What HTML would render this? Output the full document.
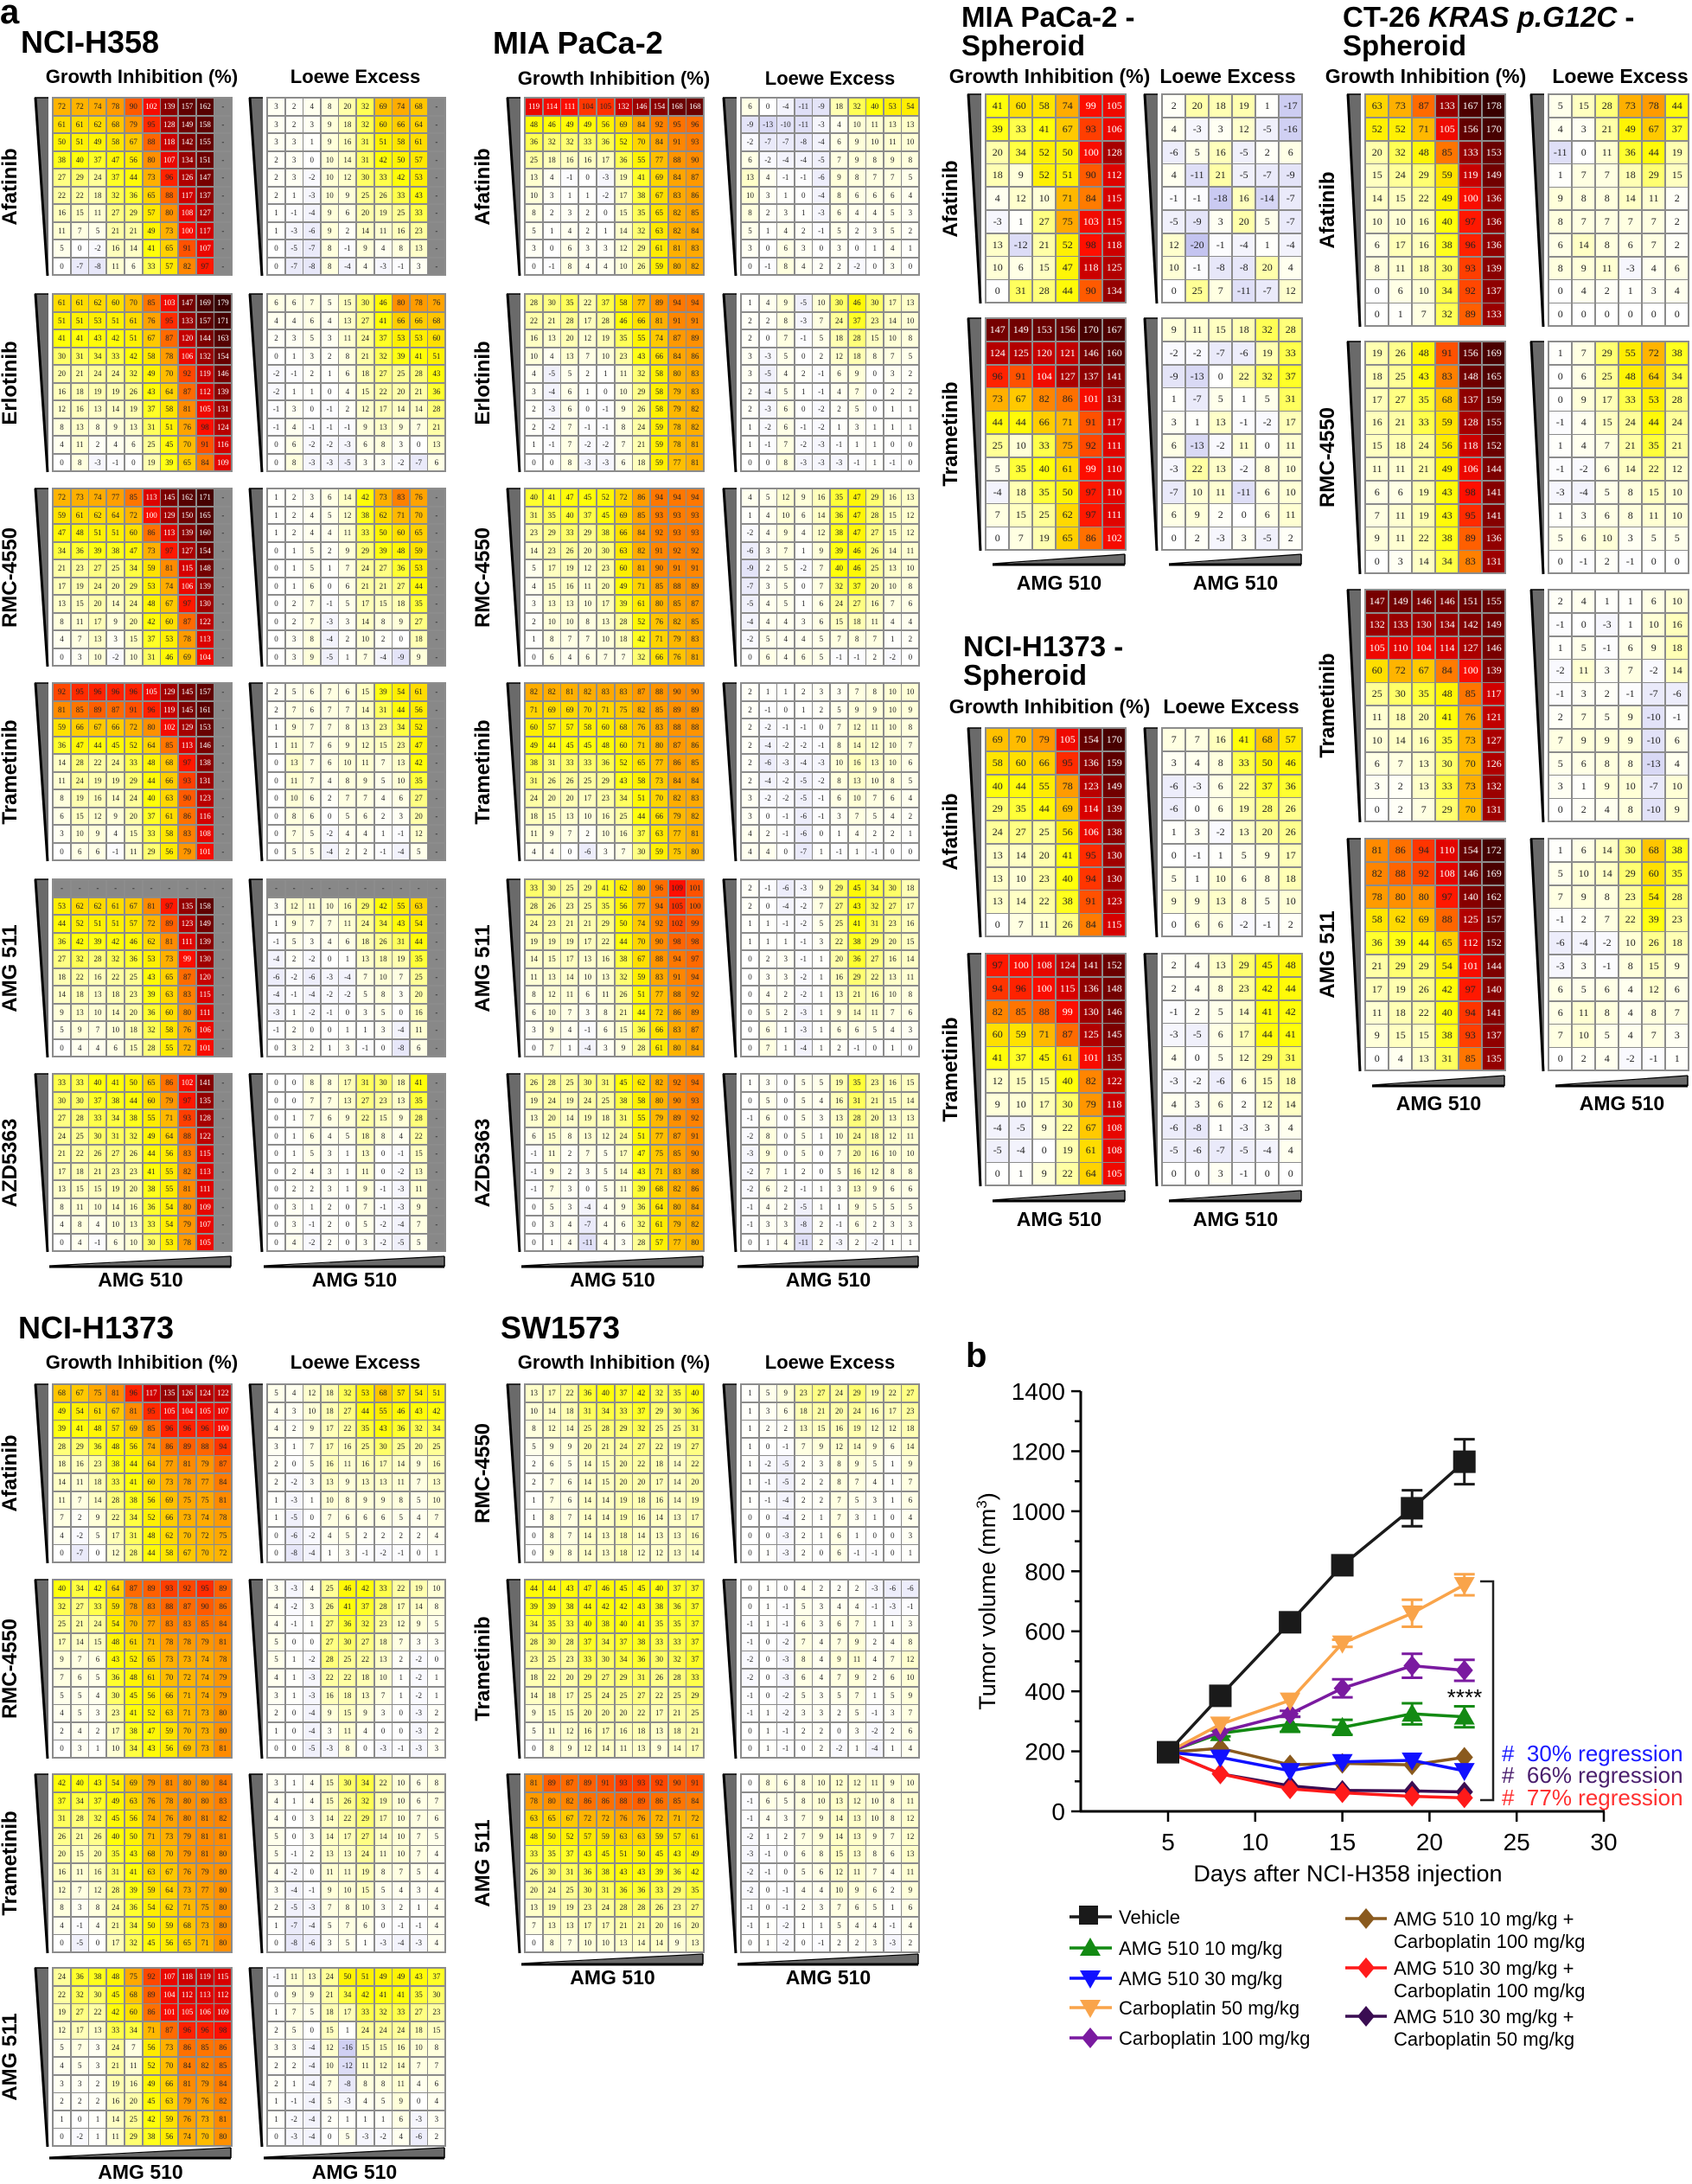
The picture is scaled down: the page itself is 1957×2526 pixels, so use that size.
<!DOCTYPE html>
<html><head><meta charset="utf-8">
<style>
html,body{margin:0;padding:0;background:#fff;}
body{width:1957px;height:2521px;position:relative;overflow:hidden;font-family:"Liberation Sans",Arial,sans-serif;}
.t{position:absolute;white-space:nowrap;font-weight:bold;color:#000;}
.c{position:absolute;box-sizing:border-box;text-align:center;font-family:"Liberation Serif","DejaVu Serif",serif;color:#222;}
.g{position:absolute;background:#8c8c8c;}
.rl{position:absolute;font-weight:bold;white-space:nowrap;transform:translate(-50%,-50%) rotate(-90deg);font-size:24px;}
.hd{position:absolute;font-weight:bold;white-space:nowrap;transform:translateX(-50%);font-size:22px;}
</style></head><body>
<div id="root"></div>
<script>
const R=document.getElementById('root');
function el(tag,cls,st,txt){const e=document.createElement(tag);if(cls)e.className=cls;if(st)e.style.cssText=st;if(txt!==undefined)e.textContent=txt;R.appendChild(e);return e;}
const stops=[[-20,[196,196,240]],[0,[255,255,255]],[10,[255,255,214]],[25,[255,255,150]],[40,[255,255,10]],[56,[255,235,0]],[66,[255,205,0]],[78,[255,155,0]],[90,[255,90,0]],[98,[255,15,0]],[115,[215,0,0]],[130,[160,0,0]],[150,[110,0,0]],[178,[55,0,0]]];
function col(v){if(v<=stops[0][0])return 'rgb('+stops[0][1]+')';for(let i=1;i<stops.length;i++){if(v<=stops[i][0]){const a=stops[i-1],b=stops[i];const t=(v-a[0])/(b[0]-a[0]);return 'rgb('+a[1].map((x,k)=>Math.round(x+(b[1][k]-x)*t)).join(',')+')';}}return 'rgb('+stops[stops.length-1][1]+')';}
function rows(anchors,nrows){
  const out=[];
  for(let r=0;r<nrows;r++){
    let a=null,b=null;
    for(const an of anchors){if(an[0]<=r)a=an;if(an[0]>=r&&!b)b=an;}
    if(!a){out.push(null);continue;}
    if(!b)b=a;
    if(a[0]===b[0]){out.push(a[1].slice());continue;}
    const t=(r-a[0])/(b[0]-a[0]);
    out.push(a[1].map((x,k)=>Math.round(x+(b[1][k]-x)*t)));
  }
  return out;
}
function grid(x,y,w,h,nc,nr,data,o){
  o=o||{};
  const rs=rows(data,nr);
  const sc=o.sc||1;
  el('div','g','left:'+(x-1)+'px;top:'+(y-1)+'px;width:'+(w+2)+'px;height:'+(h+2)+'px;');
  const cw=w/nc,ch=h/nr,fs=o.fs||9;
  for(let r=0;r<nr;r++)for(let c=0;c<nc;c++){
    const row=rs[r];let v=(row&&c<row.length)?row[c]:null;
    const gray=(v===null)||(o.grayRow0&&r===0);
    const bg=gray?'#888':col(v>0?v*sc:v);
    const fg=(!gray&&v*sc>=99)?'#fff':'#222';
    el('div','c','left:'+(x+c*cw+1).toFixed(1)+'px;top:'+(y+r*ch+1).toFixed(1)+'px;width:'+(cw-1.6).toFixed(1)+'px;height:'+(ch-1.6).toFixed(1)+'px;line-height:'+(ch-1.6).toFixed(1)+'px;font-size:'+fs+'px;background:'+bg+';color:'+fg,gray?'-':String(v));
  }
  const s=document.createElementNS('http://www.w3.org/2000/svg','svg');
  s.setAttribute('width',20);s.setAttribute('height',h+4);
  s.style.cssText='position:absolute;left:'+(x-22)+'px;top:'+(y-1)+'px;';
  s.innerHTML='<polygon points="1,1 17,1 17,'+(h+2)+'" fill="#6a6a6a"/><line x1="2" y1="1" x2="16" y2="'+(h+2)+'" stroke="#000" stroke-width="3"/><line x1="1" y1="1" x2="17" y2="1" stroke="#000" stroke-width="1.5"/>';
  R.appendChild(s);
}
function hwedge(x,y,w,lbl,ly){
  const s=document.createElementNS('http://www.w3.org/2000/svg','svg');
  s.setAttribute('width',w+4);s.setAttribute('height',18);
  s.style.cssText='position:absolute;left:'+(x-2)+'px;top:'+y+'px;';
  s.innerHTML='<polygon points="2,13 '+(w+1)+',1 '+(w+1)+',13" fill="#6a6a6a"/><line x1="2" y1="13" x2="'+(w+1)+'" y2="13" stroke="#000" stroke-width="3"/><line x1="2" y1="12" x2="'+(w+1)+'" y2="1" stroke="#000" stroke-width="1.2"/><line x1="'+(w+1)+'" y1="1" x2="'+(w+1)+'" y2="13" stroke="#000" stroke-width="1.5"/>';
  R.appendChild(s);
  el('div','hd','left:'+(x+w/2)+'px;top:'+(ly-13)+'px;font-size:23px;','AMG 510');
}
function rl(cx,cy,t,fs){el('div','rl','left:'+cx+'px;top:'+cy+'px;'+(fs?'font-size:'+fs+'px;':''),t);}
function hd(cx,cy,t,fs){el('div','hd','left:'+cx+'px;top:'+(cy-13)+'px;font-size:'+(fs||22)+'px;',t);}
function title(x,y,html,fs){const e=el('div','t','left:'+x+'px;top:'+y+'px;font-size:'+(fs||35)+'px;line-height:1;');e.innerHTML=html;}

title(0,-6,'a',40);
title(24,31,'NCI-H358',36);
title(570,32,'MIA PaCa-2',36);
hd(164,89,'Growth Inhibition (%)');hd(411,89,'Loewe Excess');
hd(710,91,'Growth Inhibition (%)');hd(960,91,'Loewe Excess');
const tops=[113,340,565,790,1017,1242],GH=205;
const lab1=['Afatinib','Erlotinib','RMC-4550','Trametinib','AMG 511','AZD5363'];
const h358=[
 [[[0,[72,72,74,78,90,102,139,157,162]],[4,[27,29,24,37,44,73,96,126,147]],[9,[0,-7,-8,11,6,33,57,82,97]]],
  [[0,[3,2,4,8,20,32,69,74,68]],[4,[2,3,-2,10,12,30,33,42,53]],[9,[0,-7,-8,8,-4,4,-3,-1,3]]]],
 [[[0,[61,61,62,60,70,85,103,147,169,179]],[4,[20,21,24,24,32,49,70,92,119,146]],[9,[0,8,-3,-1,0,19,39,65,84,109]]],
  [[0,[6,6,7,5,15,30,46,80,78,76]],[4,[-2,-1,2,1,6,18,27,25,28,43]],[9,[0,8,-3,-3,-5,3,3,-2,-7,6]]]],
 [[[0,[72,73,74,77,85,113,145,162,171]],[4,[21,23,27,25,34,59,81,115,148]],[9,[0,3,10,-2,10,31,46,69,104]]],
  [[0,[1,2,3,6,14,42,73,83,76]],[4,[0,1,5,1,7,24,27,36,53]],[9,[0,3,9,-5,1,7,-4,-9,9]]]],
 [[[0,[92,95,96,96,96,105,129,145,157]],[1,[81,85,89,87,91,96,119,145,161]],[4,[14,28,22,24,33,48,68,97,138]],[9,[0,6,6,-1,11,29,56,79,101]]],
  [[0,[2,5,6,7,6,15,39,54,61]],[4,[0,13,7,6,10,11,7,13,42]],[9,[0,5,5,-4,2,2,-1,-4,5]]]],
 [[[1,[53,62,62,61,67,81,97,135,158]],[5,[18,22,16,22,25,43,65,87,120]],[9,[0,4,4,6,15,28,55,72,101]]],
  [[1,[3,12,11,10,16,29,42,55,63]],[5,[-6,-2,-6,-3,-4,7,10,7,25]],[9,[0,3,2,1,3,-1,0,-8,6]]]],
 [[[0,[33,33,40,41,50,65,86,102,141]],[4,[21,22,26,27,26,44,56,83,115]],[9,[0,4,-1,6,10,30,53,78,105]]],
  [[0,[0,0,8,8,17,31,30,18,41]],[4,[0,1,5,3,1,13,0,-1,15]],[9,[0,4,-2,2,0,3,-2,-5,5]]]]
];
h358.forEach((d,i)=>{
  const o={grayRow0:i===4};
  grid(61,tops[i],207,GH,10,10,d[0],o);grid(309,tops[i],206,GH,10,10,d[1],o);
  rl(12,tops[i]+GH/2,lab1[i]);
});
hwedge(57,1452,211,'',1480);hwedge(305,1452,210,'',1480);

const mia=[
 [[[0,[119,114,111,104,105,132,146,154,168,168]],[1,[48,46,49,49,56,69,84,92,95,96]],[4,[13,4,-1,0,-3,19,41,69,84,87]],[9,[0,-1,8,4,4,10,26,59,80,82]]],
  [[0,[6,0,-4,-11,-9,18,32,40,53,54]],[1,[-9,-13,-10,-11,-3,4,10,11,13,13]],[4,[13,4,-1,-1,-6,9,8,7,7,5]],[9,[0,-1,8,4,2,2,-2,0,3,0]]]],
 [[[0,[28,30,35,22,37,58,77,89,94,94]],[4,[4,-5,5,2,1,11,32,58,80,83]],[9,[0,0,8,-3,-3,6,18,59,77,81]]],
  [[0,[1,4,9,-5,10,30,46,30,17,13]],[4,[3,-5,4,2,-1,6,9,0,3,2]],[9,[0,0,8,-3,-3,-3,-1,1,-1,0]]]],
 [[[0,[40,41,47,45,52,72,86,94,94,94]],[4,[5,17,19,12,23,60,81,90,91,91]],[9,[0,6,4,6,7,7,32,66,76,81]]],
  [[0,[4,5,12,9,16,35,47,29,16,13]],[4,[-9,2,5,-2,7,40,46,25,13,10]],[9,[0,6,4,6,5,-1,-1,2,-2,0]]]],
 [[[0,[82,82,81,82,83,83,87,88,90,90]],[4,[38,31,33,33,36,52,65,77,86,85]],[9,[4,4,0,-6,3,7,30,59,75,80]]],
  [[0,[2,1,1,2,3,3,7,8,10,10]],[4,[2,-6,-3,-4,-3,10,16,13,10,6]],[9,[4,4,0,-7,1,-1,1,-1,0,0]]]],
 [[[0,[33,30,25,29,41,62,80,96,109,101]],[4,[14,15,17,13,16,38,67,88,94,97]],[9,[0,7,1,-4,3,9,28,61,80,84]]],
  [[0,[2,-1,-6,-3,9,29,45,34,30,18]],[4,[0,2,3,-1,1,20,36,27,16,14]],[9,[0,7,1,-4,1,2,-1,0,1,0]]]],
 [[[0,[26,28,25,30,31,45,62,82,92,94]],[4,[-1,11,2,7,5,17,47,75,85,90]],[9,[0,1,4,-11,4,3,28,57,77,80]]],
  [[0,[1,3,0,5,5,19,35,23,16,15]],[4,[-3,9,0,5,0,7,20,16,10,10]],[9,[0,1,4,-11,2,-3,2,-2,1,1]]]]
];
mia.forEach((d,i)=>{grid(607,tops[i],207,GH,10,10,d[0],{sc:0.9});grid(857,tops[i],206,GH,10,10,d[1]);rl(559,tops[i]+GH/2,lab1[i]);});
hwedge(603,1452,211,'',1480);hwedge(853,1452,210,'',1480);

title(21,1518,'NCI-H1373',36);
title(579,1518,'SW1573',36);
hd(164,1576,'Growth Inhibition (%)');hd(411,1576,'Loewe Excess');
hd(710,1576,'Growth Inhibition (%)');hd(960,1576,'Loewe Excess');
const btops=[1601,1827,2052,2276],BH=206;
const h1373=[
 [[[0,[68,67,75,81,96,117,135,126,124,122]],[1,[49,54,61,67,81,95,105,104,105,107]],[4,[18,16,23,38,44,64,77,81,79,87]],[9,[0,-7,0,12,28,44,58,67,70,72]]],
  [[0,[5,4,12,18,32,53,68,57,54,51]],[4,[2,0,5,16,11,16,17,14,9,16]],[9,[0,-8,-4,1,3,-1,-2,-1,0,1]]]],
 [[[0,[40,34,42,64,87,89,93,92,95,89]],[4,[9,7,6,43,52,65,73,73,74,78]],[9,[0,3,1,10,34,43,56,69,73,81]]],
  [[0,[3,-3,4,25,46,42,33,22,19,10]],[4,[5,1,-2,28,25,22,13,2,-2,0]],[9,[0,0,-5,-3,8,0,-3,-1,-3,3]]]],
 [[[0,[42,40,43,54,69,79,81,80,80,84]],[4,[20,15,20,35,43,68,70,79,81,80]],[9,[0,-5,0,17,32,45,56,65,71,80]]],
  [[0,[3,1,4,15,30,34,22,10,6,8]],[4,[5,-1,2,13,13,24,11,10,7,4]],[9,[0,-8,-6,3,5,1,-3,-4,-3,4]]]],
 [[[0,[24,36,38,48,75,92,107,118,119,115]],[2,[19,27,22,42,60,86,101,105,106,109]],[4,[5,7,3,24,7,56,73,86,85,86]],[9,[0,-2,1,11,29,38,56,74,70,80]]],
  [[0,[-1,11,13,24,50,51,49,49,43,37]],[4,[3,3,-4,12,-16,15,15,16,10,8]],[9,[0,-3,-4,0,5,-3,-2,4,-6,2]]]]
];
const lab2=['Afatinib','RMC-4550','Trametinib','AMG 511'];
h1373.forEach((d,i)=>{grid(61,btops[i],207,BH,10,10,d[0]);grid(309,btops[i],206,BH,10,10,d[1]);rl(12,btops[i]+BH/2,lab2[i]);});
hwedge(57,2483,211,'',2512);hwedge(305,2483,210,'',2512);
const sw=[
 [[[0,[13,17,22,36,40,37,42,32,35,40]],[4,[2,6,5,14,15,20,22,18,14,22]],[9,[0,9,8,14,13,18,12,12,13,14]]],
  [[0,[1,5,9,23,27,24,29,19,22,27]],[4,[1,-2,-5,2,3,8,9,5,1,9]],[9,[0,1,-3,2,0,6,-1,-1,0,1]]]],
 [[[0,[44,44,43,47,46,45,45,40,37,37]],[4,[23,25,23,33,30,34,36,30,32,37]],[9,[0,8,9,12,14,11,13,9,14,17]]],
  [[0,[0,1,0,4,2,2,2,-3,-6,-6]],[4,[-2,0,-3,8,4,9,11,4,7,12]],[9,[0,1,-1,0,2,-2,1,-4,1,4]]]],
 [[[0,[81,89,87,89,91,93,93,92,90,91]],[1,[78,80,82,86,86,88,89,86,85,84]],[4,[33,35,37,43,45,51,50,45,43,49]],[9,[0,8,7,10,10,13,14,14,9,13]]],
  [[0,[0,8,6,8,10,12,12,11,9,10]],[4,[-3,-1,0,6,8,15,13,8,6,13]],[9,[0,1,-2,0,-1,2,2,3,-3,2]]]]
];
const lab3=['RMC-4550','Trametinib','AMG 511'];
sw.forEach((d,i)=>{grid(607,btops[i],207,BH,10,10,d[0]);grid(857,btops[i],206,BH,10,10,d[1]);rl(559,btops[i]+BH/2,lab3[i]);});
hwedge(603,2259,211,'',2287);hwedge(853,2259,210,'',2287);

function A(arr){return arr.map((r,i)=>[i,r]);}
title(1112,3,'MIA PaCa-2 -<br>Spheroid',33);
hd(1214,88,'Growth Inhibition (%)',23);hd(1420,88,'Loewe Excess',23);
grid(1140,109,162,241,6,9,A([[41,60,58,74,99,105],[39,33,41,67,93,106],[20,34,52,50,100,128],[18,9,52,51,90,112],[4,12,10,71,84,115],[-3,1,27,75,103,115],[13,-12,21,52,98,118],[10,6,15,47,118,125],[0,31,28,44,90,134]]),{fs:12});
grid(1344,109,162,241,6,9,A([[2,20,18,19,1,-17],[4,-3,3,12,-5,-16],[-6,5,16,-5,2,6],[4,-11,21,-5,-7,-9],[-1,-1,-18,16,-14,-7],[-5,-9,3,20,5,-7],[12,-20,-1,-4,1,-4],[10,-1,-8,-8,20,4],[0,25,7,-11,-7,12]]),{fs:12});
rl(1100,230,'Afatinib');
grid(1140,368,162,268,6,10,A([[147,149,153,156,170,167],[124,125,120,121,146,160],[96,91,104,127,137,141],[73,67,82,86,101,131],[44,44,66,71,91,117],[25,10,33,75,92,111],[5,35,40,61,99,110],[-4,18,35,50,97,110],[7,15,25,62,97,111],[0,7,19,65,86,102]]),{fs:12});
grid(1344,368,162,268,6,10,A([[9,11,15,18,32,28],[-2,-2,-7,-6,19,33],[-9,-13,0,22,32,37],[1,-7,5,1,5,31],[3,1,13,-1,-2,17],[6,-13,-2,11,0,11],[-3,22,13,-2,8,10],[-7,10,11,-11,6,10],[6,9,2,0,6,11],[0,2,-3,3,-5,2]]),{fs:12});
rl(1100,502,'Trametinib');
hwedge(1148,640,154,'',674);hwedge(1352,640,154,'',674);

title(1114,731,'NCI-H1373 -<br>Spheroid',33);
hd(1214,817,'Growth Inhibition (%)',23);hd(1424,817,'Loewe Excess',23);
grid(1140,842,162,241,6,9,A([[69,70,79,105,154,170],[58,60,66,95,136,159],[40,44,55,78,123,149],[29,35,44,69,114,139],[24,27,25,56,106,138],[13,14,20,41,95,130],[13,10,23,40,94,130],[13,14,22,38,91,123],[0,7,11,26,84,115]]),{fs:12});
grid(1344,842,162,241,6,9,A([[7,7,16,41,68,57],[3,4,8,33,50,46],[-6,-3,6,22,37,36],[-6,0,6,19,28,26],[1,3,-2,13,20,26],[0,-1,1,5,9,17],[5,1,10,6,8,18],[9,9,13,8,5,10],[0,6,6,-2,-1,2]]),{fs:12});
rl(1100,962,'Afatinib');
grid(1140,1103,162,268,6,10,A([[97,100,108,124,141,152],[94,96,100,115,136,148],[82,85,88,99,130,146],[60,59,71,87,125,145],[41,37,45,61,101,135],[12,15,15,40,82,122],[9,10,17,30,79,118],[-4,-5,9,22,67,108],[-5,-4,0,19,61,108],[0,1,9,22,64,105]]),{fs:12});
grid(1344,1103,162,268,6,10,A([[2,4,13,29,45,48],[2,4,8,23,42,44],[-1,2,5,14,41,42],[-3,-5,6,17,44,41],[4,0,5,12,29,31],[-3,-2,-6,6,15,18],[4,3,6,2,12,14],[-6,-8,1,-3,3,4],[-5,-6,-7,-5,-4,4],[0,0,3,-1,0,0]]),{fs:12});
rl(1100,1237,'Trametinib');
hwedge(1148,1376,154,'',1410);hwedge(1352,1376,154,'',1410);

title(1553,3,'CT-26 <i>KRAS p.G12C</i> -<br>Spheroid',33);
hd(1649,88,'Growth Inhibition (%)',23);hd(1874,88,'Loewe Excess',23);
const ct=[
 [[[63,73,87,133,167,178],[52,52,71,105,156,170],[20,32,48,85,133,153],[15,24,29,59,119,149],[14,15,22,49,100,136],[10,10,16,40,97,136],[6,17,16,38,96,136],[8,11,18,30,93,139],[0,6,10,34,92,137],[0,1,7,32,89,133]],
  [[5,15,28,73,78,44],[4,3,21,49,67,37],[-11,0,11,36,44,19],[1,7,7,18,29,15],[9,8,8,14,11,2],[8,7,7,7,7,2],[6,14,8,6,7,2],[8,9,11,-3,4,6],[0,4,2,1,3,4],[0,0,0,0,0,0]]],
 [[[19,26,48,91,156,169],[18,25,43,83,148,165],[17,27,35,68,137,159],[16,21,33,59,128,155],[15,18,24,56,118,152],[11,11,21,49,106,144],[6,6,19,43,98,141],[7,11,19,43,95,141],[9,11,22,38,89,136],[0,3,14,34,83,131]],
  [[1,7,29,55,72,38],[0,6,25,48,64,34],[0,9,17,33,53,28],[-1,4,15,24,44,24],[1,4,7,21,35,21],[-1,-2,6,14,22,12],[-3,-4,5,8,15,10],[1,3,6,8,11,10],[5,6,10,3,5,5],[0,-1,2,-1,0,0]]],
 [[[147,149,146,146,151,155],[132,133,130,134,142,149],[105,110,104,114,127,146],[60,72,67,84,100,139],[25,30,35,48,85,117],[11,18,20,41,76,121],[10,14,16,35,73,127],[6,7,13,30,70,126],[3,2,13,33,73,132],[0,2,7,29,70,131]],
  [[2,4,1,1,6,10],[-1,0,-3,1,10,16],[1,5,-1,6,9,18],[-2,11,3,7,-2,14],[-1,3,2,-1,-7,-6],[2,7,5,9,-10,-1],[7,9,9,9,-10,6],[5,6,8,8,-13,4],[3,1,9,10,-7,10],[0,2,4,8,-10,9]]],
 [[[81,86,94,110,154,172],[82,88,92,108,146,169],[78,80,80,97,140,162],[58,62,69,88,125,157],[36,39,44,65,112,152],[21,29,29,54,101,144],[17,19,26,42,97,140],[11,18,22,40,94,141],[9,15,15,38,93,137],[0,4,13,31,85,135]],
  [[1,6,14,30,68,38],[5,10,14,29,60,35],[7,9,8,23,54,28],[-1,2,7,22,39,23],[-6,-4,-2,10,26,18],[-3,3,-1,8,15,9],[6,5,6,4,12,6],[6,11,8,4,8,7],[7,10,5,4,7,3],[0,2,4,-2,-1,1]]]
];
const cttops=[109,395,682,970],ctlab=['Afatinib','RMC-4550','Trametinib','AMG 511'];
ct.forEach((d,i)=>{grid(1579,cttops[i],162,268,6,10,A(d[0]),{fs:12});grid(1791,cttops[i],162,268,6,10,A(d[1]),{fs:12});rl(1536,cttops[i]+134,ctlab[i]);});
hwedge(1587,1243,154,'',1276);hwedge(1799,1243,154,'',1276);

title(1117,1548,'b',40);
const X=d=>1351+(d-5)*20.16, Y=v=>2095-v*0.3471;
let s='';
s+='<line x1="1250" y1="1609" x2="1250" y2="2096" stroke="#000" stroke-width="3"/>';
s+='<line x1="1249" y1="2095" x2="1856" y2="2095" stroke="#000" stroke-width="3"/>';
for(let v=0;v<=1400;v+=100){const y=Y(v);const maj=v%200===0;s+='<line x1="'+(maj?1239:1243)+'" y1="'+y+'" x2="1250" y2="'+y+'" stroke="#000" stroke-width="2.5"/>';if(maj)s+='<text x="1232" y="'+(y+10)+'" font-size="28" text-anchor="end">'+v+'</text>';}
for(let d=5;d<=30;d+=5){const x=X(d);s+='<line x1="'+x+'" y1="2095" x2="'+x+'" y2="2107" stroke="#000" stroke-width="2.5"/><text x="'+x+'" y="2140" font-size="28" text-anchor="middle">'+d+'</text>';}
s+='<text x="1559" y="2176" font-size="27" text-anchor="middle">Days after NCI-H358 injection</text>';
s+='<text transform="translate(1151,1852) rotate(-90)" font-size="27" text-anchor="middle">Tumor volume (mm<tspan font-size="17" dy="-10">3</tspan><tspan dy="10">)</tspan></text>';
const days=[5,8,12,15,19,22];
function mk(t,x,y,c){
 if(t==='sq')return '<rect x="'+(x-13)+'" y="'+(y-13)+'" width="26" height="26" fill="'+c+'"/>';
 if(t==='up')return '<polygon points="'+x+','+(y-12)+' '+(x+12)+','+(y+9)+' '+(x-12)+','+(y+9)+'" fill="'+c+'"/>';
 if(t==='dn')return '<polygon points="'+x+','+(y+12)+' '+(x+12)+','+(y-9)+' '+(x-12)+','+(y-9)+'" fill="'+c+'"/>';
 return '<polygon points="'+x+','+(y-12)+' '+(x+10)+','+y+' '+x+','+(y+12)+' '+(x-10)+','+y+'" fill="'+c+'"/>';}
const ser=[
 ['#8a5a1e','di',[197,210,155,160,155,180],[0,0,0,0,0,0]],
 ['#3a0d52','di',[197,125,85,70,68,65],[0,0,0,0,0,0]],
 ['#ff1a1a','di',[197,125,75,62,50,45],[0,0,0,0,0,0]],
 ['#1010ff','dn',[197,180,135,165,170,135],[0,0,0,0,0,0]],
 ['#138a13','up',[197,260,290,280,325,315],[0,10,25,25,35,35]],
 ['#7a1aa0','di',[197,265,325,410,485,470],[0,0,10,30,40,35]],
 ['#f9a44a','dn',[197,290,370,560,660,755],[0,0,0,12,45,35]],
 ['#1a1a1a','sq',[197,385,630,820,1010,1165],[0,10,25,30,60,75]]
];
ser.forEach(([c,t,v,e])=>{
 s+='<polyline fill="none" stroke="'+c+'" stroke-width="3.5" points="'+days.map((d,i)=>X(d)+','+Y(v[i])).join(' ')+'"/>';
 days.forEach((d,i)=>{if(e[i]){const x=X(d),y1=Y(v[i]+e[i]),y2=Y(v[i]-e[i]);s+='<line x1="'+x+'" y1="'+y1+'" x2="'+x+'" y2="'+y2+'" stroke="'+c+'" stroke-width="3"/><line x1="'+(x-12)+'" y1="'+y1+'" x2="'+(x+12)+'" y2="'+y1+'" stroke="'+c+'" stroke-width="3"/><line x1="'+(x-12)+'" y1="'+y2+'" x2="'+(x+12)+'" y2="'+y2+'" stroke="'+c+'" stroke-width="3"/>';}
  s+=mk(t,X(d),Y(v[i]),c);});
});
s+='<polyline points="1712,1829 1727,1829 1727,2082 1712,2082" fill="none" stroke="#222" stroke-width="2.5"/>';
s+='<text x="1694" y="1972" font-size="26" text-anchor="middle">****</text>';
s+='<text x="1737" y="2037" font-size="26" fill="#1a1aff">#&#160;&#160;30% regression</text>';
s+='<text x="1737" y="2062" font-size="26" fill="#4b1f6e">#&#160;&#160;66% regression</text>';
s+='<text x="1737" y="2088" font-size="26" fill="#ff3030">#&#160;&#160;77% regression</text>';
const L=[['#1a1a1a','sq','Vehicle',2217],['#138a13','up','AMG 510 10 mg/kg',2253],['#1010ff','dn','AMG 510 30 mg/kg',2288],['#f9a44a','dn','Carboplatin 50 mg/kg',2322],['#7a1aa0','di','Carboplatin 100 mg/kg',2357]];
L.forEach(([c,t,tx,y])=>{s+='<line x1="1237" y1="'+y+'" x2="1286" y2="'+y+'" stroke="'+c+'" stroke-width="3.5"/>'+mk(t,1261,y,c).replace('width="26" height="26"','width="22" height="22"')+'<text x="1294" y="'+(y+8)+'" font-size="22">'+tx+'</text>';});
const L2=[['#8a5a1e','AMG 510 10 mg/kg +','Carboplatin 100 mg/kg',2219],['#ff1a1a','AMG 510 30 mg/kg +','Carboplatin 100 mg/kg',2276],['#3a0d52','AMG 510 30 mg/kg +','Carboplatin 50 mg/kg',2332]];
L2.forEach(([c,a,b,y])=>{s+='<line x1="1556" y1="'+y+'" x2="1604" y2="'+y+'" stroke="'+c+'" stroke-width="3.5"/>'+mk('di',1580,y,c)+'<text x="1612" y="'+(y+8)+'" font-size="22">'+a+'</text><text x="1612" y="'+(y+34)+'" font-size="22">'+b+'</text>';});
const sv=document.createElementNS('http://www.w3.org/2000/svg','svg');
sv.setAttribute('width',1957);sv.setAttribute('height',2521);
sv.style.cssText='position:absolute;left:0;top:0;font-family:"Liberation Sans",Arial,sans-serif;';
sv.innerHTML=s;R.appendChild(sv);
</script>
</body></html>
